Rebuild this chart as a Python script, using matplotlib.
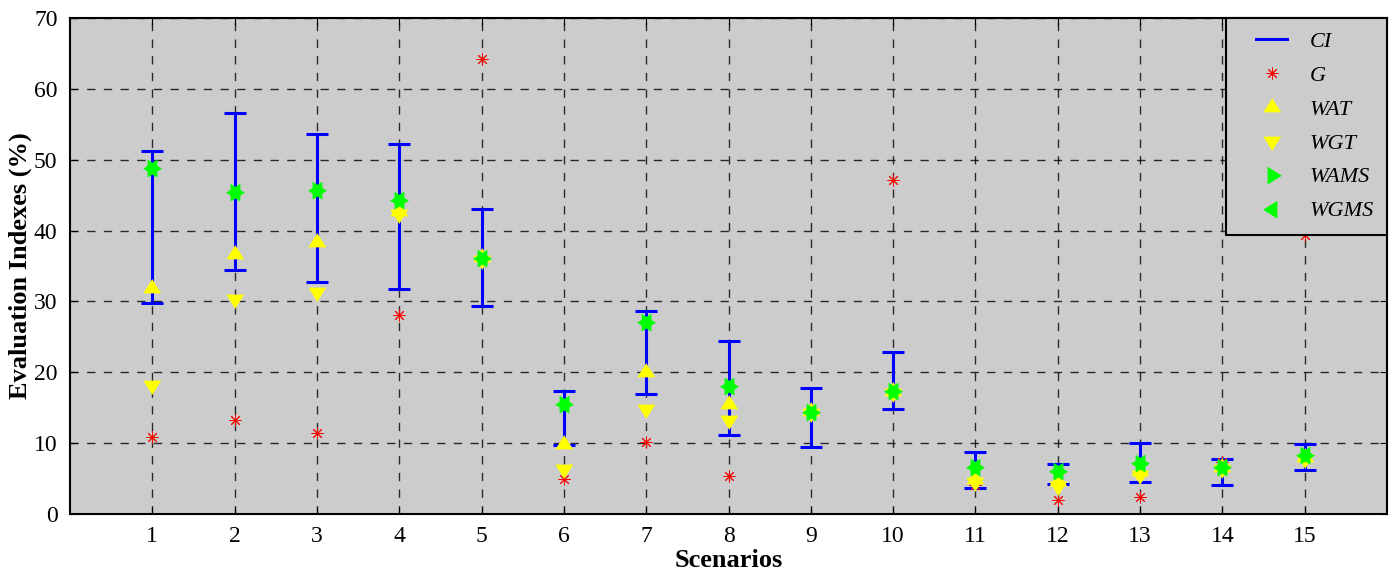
import matplotlib
matplotlib.use('Agg')
import matplotlib.pyplot as plt
from matplotlib.lines import Line2D
from matplotlib.legend_handler import HandlerLine2D
import numpy as np

# valores
scenarios = np.arange(1, 16)
ci_low = [29.8, 34.5, 32.8, 31.7, 29.4, 9.7, 17.0, 11.2, 9.4, 14.8, 3.7, 4.3, 4.5, 4.1, 6.2]
ci_high = [51.2, 56.6, 53.6, 52.2, 43.1, 17.3, 28.7, 24.4, 17.8, 22.8, 8.8, 7.1, 10.0, 7.7, 9.9]
g_vals = [10.9, 13.3, 11.4, 28.1, 64.2, 4.9, 10.1, 5.4, 14.5, 47.2, 4.1, 2.0, 2.4, 7.3, 39.4]
wat = [31.9, 36.7, 38.4, 42.8, 36.2, 9.9, 20.1, 15.5, 14.5, 17.3, 5.0, 4.7, 6.0, 6.6, 8.0]
wgt = [18.2, 30.3, 31.4, 42.3, 35.8, 6.4, 14.8, 13.3, 14.3, 17.1, 4.5, 3.9, 5.5, 6.4, 7.8]
wams = [48.8, 45.4, 45.7, 44.3, 36.1, 15.5, 27.1, 18.1, 14.4, 17.4, 6.7, 6.1, 7.2, 6.7, 8.3]
wgms = [48.8, 45.4, 45.7, 44.3, 36.1, 15.5, 27.1, 18.1, 14.4, 17.4, 6.7, 6.1, 7.2, 6.7, 8.3]

plt.rcParams['font.family'] = ['Liberation Serif', 'DejaVu Serif']

# triangulos centrados no baricentro (como no matlab), pra sobrepor virar estrela
tri_up = [(0, 0.533), (-0.5, -0.267), (0.5, -0.267)]
tri_down = [(x, -y) for x, y in tri_up]
tri_right = [(y, x) for x, y in tri_up]
tri_left = [(-y, x) for x, y in tri_up]
star8 = (8, 2, 0)

fig = plt.figure(figsize=(13.96, 5.72), dpi=100)
ax = fig.add_axes([70 / 1396, 58 / 572, 1317 / 1396, 496 / 572])
ax.set_facecolor('#cccccc')

ci_low = np.array(ci_low)
ci_high = np.array(ci_high)
mid = (ci_low + ci_high) / 2
err = (ci_high - ci_low) / 2
ax.errorbar(scenarios, mid, yerr=err, fmt='none', ecolor='#0000ff', elinewidth=2.2,
            capsize=8, capthick=2.2, zorder=3)
ms = 13
ax.plot(scenarios, g_vals, color='#ff0000', markersize=8.5, markeredgewidth=0.7,
        marker=star8, linestyle='none', zorder=4)
ax.plot(scenarios, wat, marker=tri_up, color='#ffff00', markersize=ms, markeredgewidth=0.5, linestyle='none', zorder=4)
ax.plot(scenarios, wgt, marker=tri_down, color='#ffff00', markersize=ms, markeredgewidth=0.5, linestyle='none', zorder=4)
ax.plot(scenarios, wams, marker=tri_right, color='#00ff00', markersize=ms, markeredgewidth=0.5, linestyle='none', zorder=5)
ax.plot(scenarios, wgms, marker=tri_left, color='#00ff00', markersize=ms, markeredgewidth=0.5, linestyle='none', zorder=5)

ax.set_xlim(0, 16)
ax.set_ylim(0, 70)
ax.set_xticks(scenarios)
ax.set_yticks(np.arange(0, 71, 10))
ax.grid(True, color='black', linestyle=(0, (6, 6)), linewidth=1.0, alpha=0.8)
ax.set_axisbelow(True)
ax.tick_params(direction='in', top=True, right=True, labelsize=17, length=5, pad=9)
for s in ax.spines.values():
    s.set_linewidth(1.5)

ax.set_xlabel('Scenarios', fontsize=19, fontweight='bold', labelpad=1)
ax.set_ylabel('Evaluation Indexes (%)', fontsize=19, fontweight='bold', labelpad=1)

# legenda com a linha do CI primeiro
handles = [
    Line2D([], [], color='#0000ff', linewidth=2.2),
    Line2D([], [], color='#ff0000', marker=star8, markersize=8.5, markeredgewidth=0.7, linestyle='none'),
    Line2D([], [], color='#ffff00', marker=tri_up, markersize=ms, markeredgewidth=0.5, linestyle='none'),
    Line2D([], [], color='#ffff00', marker=tri_down, markersize=ms, markeredgewidth=0.5, linestyle='none'),
    Line2D([], [], color='#00ff00', marker=tri_right, markersize=ms, markeredgewidth=0.5, linestyle='none'),
    Line2D([], [], color='#00ff00', marker=tri_left, markersize=ms, markeredgewidth=0.5, linestyle='none'),
]
labels = ['CI', 'G', 'WAT', 'WGT', 'WAMS', 'WGMS']
leg = ax.legend(handles, labels, loc='upper right', prop={'style': 'italic', 'size': 16},
                fancybox=False, edgecolor='black', facecolor='#cccccc', framealpha=1,
                borderaxespad=0, handlelength=2.16, handletextpad=1.0, labelspacing=0.6,
                borderpad=0.6, handler_map={Line2D: HandlerLine2D(xpad=0.77)})
leg.get_frame().set_linewidth(1.5)

fig.savefig('out.png', dpi=100, facecolor='white')
